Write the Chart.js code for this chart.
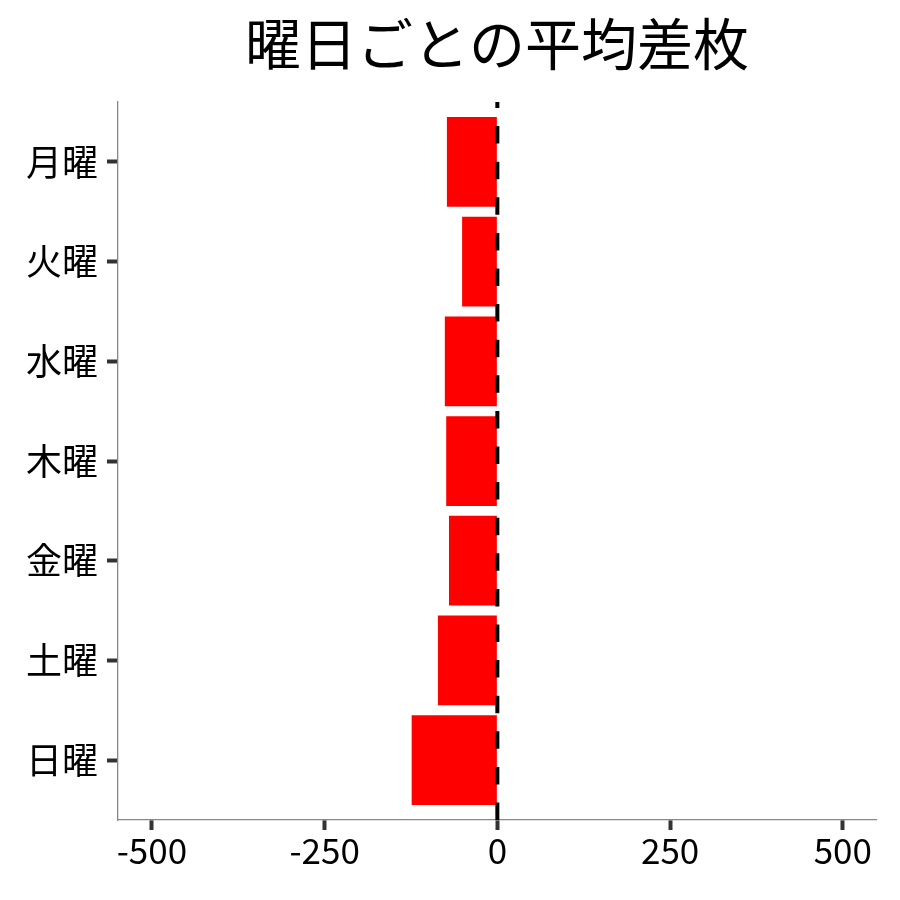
<!DOCTYPE html>
<html>
<head>
<meta charset="utf-8">
<script src="https://cdn.jsdelivr.net/npm/chart.js@4"></script>
<style>
  html, body { margin: 0; padding: 0; background: #fff; }
  #wrap { width: 900px; height: 900px; }
</style>
</head>
<body>
<div id="wrap"><canvas id="c" width="900" height="900"></canvas></div>
<script>
const titleText = '曜日ごとの平均差枚';
const days = ['月曜', '火曜', '水曜', '木曜', '金曜', '土曜', '日曜'];
const avgDiff = [-73, -51, -76, -74, -70, -86, -124];
const xTicks = [-500, -250, 0, 250, 500];

const FONT = '"Noto Sans CJK JP", "Noto Sans", sans-serif';

const zeroLine = {
  id: 'zeroLine',
  afterDatasetsDraw(chart) {
    const { ctx, chartArea, scales } = chart;
    const x = scales.x.getPixelForValue(0);
    ctx.save();
    ctx.beginPath();
    ctx.rect(chartArea.left, chartArea.top, chartArea.right - chartArea.left, chartArea.bottom - chartArea.top);
    ctx.clip();
    ctx.strokeStyle = '#000';
    ctx.lineWidth = 4;
    ctx.setLineDash([17.5, 18.1]);
    ctx.beginPath();
    ctx.moveTo(x, chartArea.bottom);
    ctx.lineTo(x, chartArea.top);
    ctx.stroke();
    ctx.restore();
  }
};

new Chart(document.getElementById('c'), {
  type: 'bar',
  data: {
    datasets: [{
      data: days.map((d, i) => ({ x: avgDiff[i], y: i })),
      backgroundColor: '#ff0000',
      borderWidth: 0,
      barPercentage: 0.9,
      categoryPercentage: 1.0
    }]
  },
  options: {
    indexAxis: 'y',
    responsive: false,
    animation: false,
    devicePixelRatio: 1,
    layout: { padding: { left: 0, right: 24, top: 0, bottom: 0 } },
    plugins: {
      legend: { display: false },
      tooltip: { enabled: false },
      title: {
        display: true,
        text: titleText,
        fullSize: false,
        color: '#000',
        font: { family: FONT, size: 56, weight: 'normal', lineHeight: 1.2 },
        padding: { top: 10, bottom: 24.8 }
      }
    },
    scales: {
      x: {
        type: 'linear',
        min: -549,
        max: 548,
        afterBuildTicks: (s) => { s.ticks = xTicks.map(v => ({ value: v })); },
        afterFit: (s) => { s.height = 80; },
        border: { display: true, color: '#888', width: 1.3 },
        grid: { display: true, drawOnChartArea: false, drawTicks: true, tickLength: 10, tickColor: '#333', tickWidth: 4 },
        ticks: { color: '#000', font: { family: FONT, size: 35 }, padding: 0, maxRotation: 0, autoSkip: false }
      },
      y: {
        type: 'linear',
        reverse: true,
        offset: false,
        min: -0.6,
        max: 6.6,
        afterBuildTicks: (s) => { s.ticks = days.map((d, i) => ({ value: i })); },
        afterFit: (s) => { s.width = 118; },
        border: { display: true, color: '#888', width: 1.3 },
        grid: { display: true, offset: false, drawOnChartArea: false, drawTicks: true, tickLength: 11, tickColor: '#333', tickWidth: 4 },
        ticks: {
          color: '#000',
          font: { family: FONT, size: 36 },
          padding: 9,
          autoSkip: false,
          callback: (v) => days[v]
        }
      }
    }
  },
  plugins: [zeroLine]
});
</script>
</body>
</html>
